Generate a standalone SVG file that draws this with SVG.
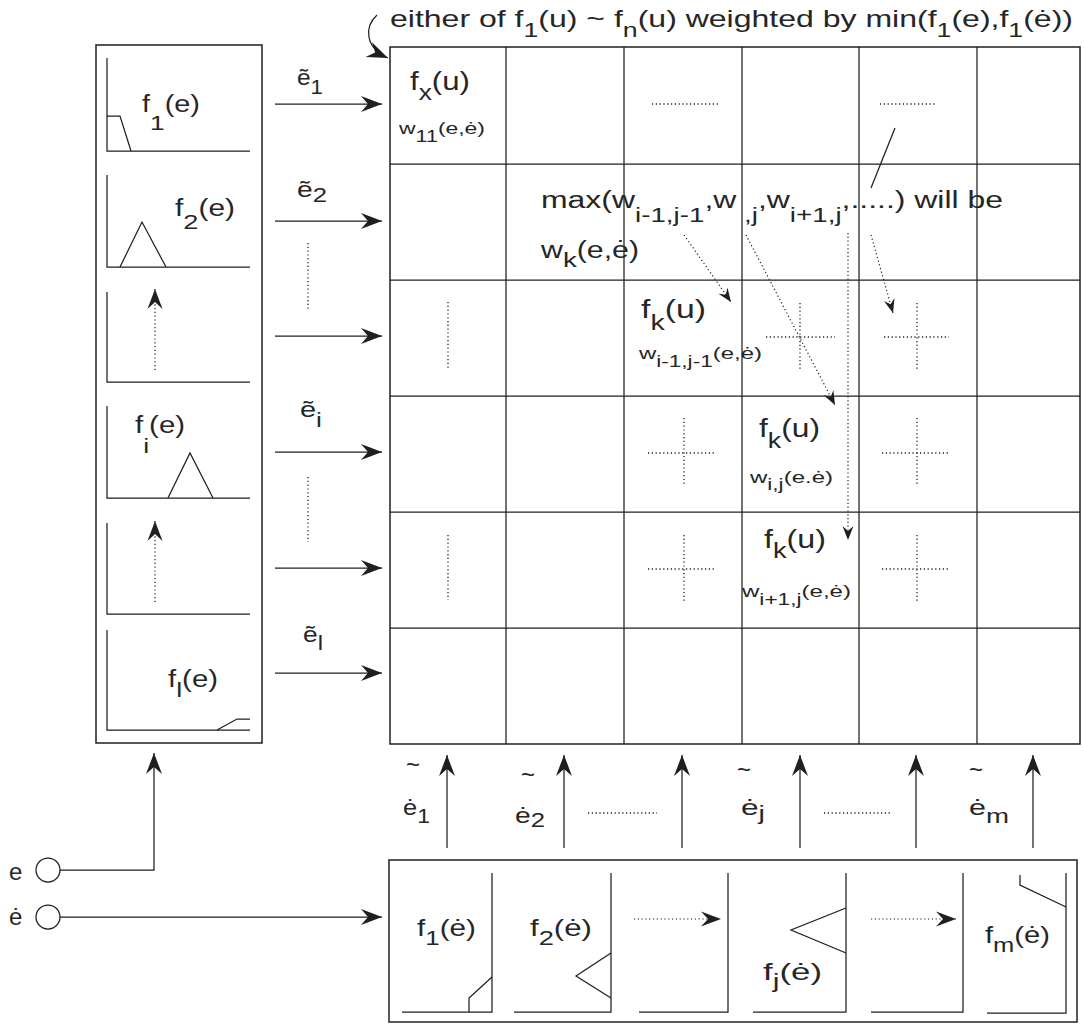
<svg xmlns="http://www.w3.org/2000/svg" width="1084" height="1025" viewBox="0 0 1084 1025">
<style>
.t{font-family:"Liberation Sans",Arial,Helvetica,sans-serif;fill:#262626}
.ln{fill:none;stroke:#1f1f1f;stroke-width:1.25}
.bx{fill:none;stroke:#1f1f1f;stroke-width:1.5}
.dt{fill:none;stroke:#1f1f1f;stroke-width:1.3;stroke-dasharray:1.2 2.6}
.ar{fill:none;stroke:#1f1f1f;stroke-width:1.25;marker-end:url(#ah)}
.da{fill:none;stroke:#1f1f1f;stroke-width:1.2;stroke-dasharray:1.2 2.6;marker-end:url(#ahs)}
.dm{fill:none;stroke:#1f1f1f;stroke-width:1.2;stroke-dasharray:1.2 2.6;marker-end:url(#ahm)}
</style>
<defs>
<marker id="ah" markerUnits="userSpaceOnUse" viewBox="-22 -10 24 20" markerWidth="24" markerHeight="20" refX="0" refY="0" orient="auto">
<path d="M0,0 L-21,-8 L-14,0 L-21,8 Z" fill="#1f1f1f"/>
</marker>
<marker id="ahm" markerUnits="userSpaceOnUse" viewBox="-22 -10 24 20" markerWidth="24" markerHeight="20" refX="0" refY="0" orient="auto">
<path d="M0,0 L-20,-7.5 L-13,0 L-20,7.5 Z" fill="#1f1f1f" stroke="none"/>
</marker>
<marker id="ahs" markerUnits="userSpaceOnUse" viewBox="-16 -8 18 16" markerWidth="18" markerHeight="16" refX="0" refY="0" orient="auto">
<path d="M0,0 L-14,-5.5 L-9,0 L-14,5.5 Z" fill="#1f1f1f" stroke="none"/>
</marker>
</defs>
<rect width="1084" height="1025" fill="#fff"/>

<!-- annotation -->
<g id="annotation">
<text class="t" x="390" y="27" font-size="24" textLength="683" lengthAdjust="spacingAndGlyphs">either of f<tspan dy="10" font-size="20">1</tspan><tspan dy="-10">(u) ~ f</tspan><tspan dy="10" font-size="20">n</tspan><tspan dy="-10">(u) weighted by min(f</tspan><tspan dy="10" font-size="20">1</tspan><tspan dy="-10">(e),f</tspan><tspan dy="10" font-size="20">1</tspan><tspan dy="-10">(ė))</tspan></text>
</g>

<!-- left fuzzifier box for e -->
<g id="fuzz-e">
<rect class="bx" x="96" y="45" width="166" height="698"/>
<g id="mf-e-1">
<polyline class="ln" points="107,58 107,151 250,151"/>
<polyline class="ln" points="107,116 120,116 131,151"/>
<text class="t" x="142" y="112" font-size="23" textLength="58" lengthAdjust="spacingAndGlyphs">f<tspan dy="18" font-size="21">1</tspan><tspan dy="-18">(e)</tspan></text>
</g>
<g id="mf-e-2">
<polyline class="ln" points="107,175 107,267 250,267"/>
<polyline class="ln" points="120,267 142,222 166,267"/>
<text class="t" x="175" y="216" font-size="23" textLength="60" lengthAdjust="spacingAndGlyphs">f<tspan dy="13" font-size="21">2</tspan><tspan dy="-13">(e)</tspan></text>
</g>
<g id="mf-e-3">
<polyline class="ln" points="107,292 107,382 250,382"/>
<line class="dm" x1="155" y1="370" x2="155" y2="289"/>
</g>
<g id="mf-e-i">
<polyline class="ln" points="107,406 107,498 250,498"/>
<polyline class="ln" points="168,498 190,453 213,498"/>
<text class="t" x="135" y="433" font-size="23" textLength="50" lengthAdjust="spacingAndGlyphs">f<tspan dy="20" font-size="21">i</tspan><tspan dy="-20">(e)</tspan></text>
</g>
<g id="mf-e-5">
<polyline class="ln" points="107,523 107,614 250,614"/>
<line class="dm" x1="155" y1="602" x2="155" y2="521"/>
</g>
<g id="mf-e-l">
<polyline class="ln" points="107,630 107,730 250,730"/>
<polyline class="ln" points="217,730 237,719 250,719"/>
<text class="t" x="168" y="687" font-size="23" textLength="50" lengthAdjust="spacingAndGlyphs">f<tspan dy="10" font-size="21">l</tspan><tspan dy="-10">(e)</tspan></text>
</g>
</g>

<!-- rule grid -->
<g id="rule-grid">
<rect class="bx" x="390" y="47" width="690" height="697"/>
<g class="ln">
<line x1="506" y1="47" x2="506" y2="744"/>
<line x1="624" y1="47" x2="624" y2="744"/>
<line x1="742" y1="47" x2="742" y2="744"/>
<line x1="859" y1="47" x2="859" y2="744"/>
<line x1="977" y1="47" x2="977" y2="744"/>
<line x1="390" y1="164" x2="1080" y2="164"/>
<line x1="390" y1="280" x2="1080" y2="280"/>
<line x1="390" y1="396" x2="1080" y2="396"/>
<line x1="390" y1="512" x2="1080" y2="512"/>
<line x1="390" y1="628" x2="1080" y2="628"/>
</g>
<g id="cell-1-1">
<text class="t" x="410" y="90" font-size="26" textLength="60" lengthAdjust="spacingAndGlyphs">f<tspan dy="10" font-size="22">x</tspan><tspan dy="-10">(u)</tspan></text>
<text class="t" x="399" y="134" font-size="17" textLength="86" lengthAdjust="spacingAndGlyphs">w<tspan dy="8" font-size="16">11</tspan><tspan dy="-8">(e,ė)</tspan></text>
</g>
<g id="grid-dots">
<line class="dt" x1="652" y1="104" x2="718" y2="104"/>
<line class="dt" x1="880" y1="104" x2="935" y2="104"/>
<line class="dt" x1="448" y1="302" x2="448" y2="368"/>
<line class="dt" x1="766" y1="337" x2="835" y2="337"/>
<line class="dt" x1="800" y1="303" x2="800" y2="370"/>
<line class="dt" x1="884" y1="337" x2="949" y2="337"/>
<line class="dt" x1="917" y1="303" x2="917" y2="370"/>
<line class="dt" x1="648" y1="453" x2="716" y2="453"/>
<line class="dt" x1="684" y1="418" x2="684" y2="485"/>
<line class="dt" x1="882" y1="453" x2="949" y2="453"/>
<line class="dt" x1="917" y1="418" x2="917" y2="485"/>
<line class="dt" x1="448" y1="535" x2="448" y2="600"/>
<line class="dt" x1="648" y1="569" x2="716" y2="569"/>
<line class="dt" x1="684" y1="535" x2="684" y2="602"/>
<line class="dt" x1="882" y1="569" x2="949" y2="569"/>
<line class="dt" x1="917" y1="535" x2="917" y2="602"/>
</g>
<g id="max-note">
<text class="t" x="541" y="208" font-size="23" textLength="462" lengthAdjust="spacingAndGlyphs">max(w<tspan dy="14" font-size="20">i-1,j-1</tspan><tspan dy="-14">,w</tspan><tspan dy="14" font-size="20"> ,j</tspan><tspan dy="-14">,w</tspan><tspan dy="14" font-size="20">i+1,j</tspan><tspan dy="-14">,.....) will be</tspan></text>
<text class="t" x="541" y="258" font-size="23" textLength="98" lengthAdjust="spacingAndGlyphs">w<tspan dy="9" font-size="21">k</tspan><tspan dy="-9">(e,ė)</tspan></text>
</g>
<g id="cell-k-1">
<text class="t" x="641" y="318" font-size="26" textLength="65" lengthAdjust="spacingAndGlyphs">f<tspan dy="12" font-size="22">k</tspan><tspan dy="-12">(u)</tspan></text>
<text class="t" x="639" y="359" font-size="17" textLength="123" lengthAdjust="spacingAndGlyphs">w<tspan dy="8" font-size="16">i-1,j-1</tspan><tspan dy="-8">(e,ė)</tspan></text>
</g>
<g id="cell-k-2">
<text class="t" x="759" y="437" font-size="26" textLength="61" lengthAdjust="spacingAndGlyphs">f<tspan dy="11" font-size="22">k</tspan><tspan dy="-11">(u)</tspan></text>
<text class="t" x="750" y="483" font-size="17" textLength="83" lengthAdjust="spacingAndGlyphs">w<tspan dy="7" font-size="16">i,j</tspan><tspan dy="-7">(e.ė)</tspan></text>
</g>
<g id="cell-k-3">
<text class="t" x="764" y="548" font-size="26" textLength="62" lengthAdjust="spacingAndGlyphs">f<tspan dy="10" font-size="22">k</tspan><tspan dy="-10">(u)</tspan></text>
<text class="t" x="742" y="597" font-size="17" textLength="109" lengthAdjust="spacingAndGlyphs">w<tspan dy="8" font-size="16">i+1,j</tspan><tspan dy="-8">(e,ė)</tspan></text>
</g>
</g>

<!-- bottom fuzzifier box for e-dot -->
<g id="fuzz-edot">
<rect class="bx" x="389" y="860" width="688" height="162"/>
<g id="mf-ed-1">
<polyline class="ln" points="402,1012 492,1012 492,873"/>
<polyline class="ln" points="469,1012 469,998 492,977"/>
<text class="t" x="417" y="936" font-size="24" textLength="59" lengthAdjust="spacingAndGlyphs">f<tspan dy="9" font-size="21">1</tspan><tspan dy="-9">(ė)</tspan></text>
</g>
<g id="mf-ed-2">
<polyline class="ln" points="514,1012 611,1012 611,873"/>
<polyline class="ln" points="611,953 576,976 611,998"/>
<text class="t" x="530" y="936" font-size="24" textLength="62" lengthAdjust="spacingAndGlyphs">f<tspan dy="9" font-size="21">2</tspan><tspan dy="-9">(ė)</tspan></text>
</g>
<g id="mf-ed-3">
<polyline class="ln" points="639,1012 728,1012 728,873"/>
<line class="dm" x1="634" y1="919" x2="721" y2="919"/>
</g>
<g id="mf-ed-j">
<polyline class="ln" points="753,1012 846,1012 846,873"/>
<polyline class="ln" points="846,908 791,930 846,953"/>
<text class="t" x="763" y="980" font-size="24" textLength="59" lengthAdjust="spacingAndGlyphs">f<tspan dy="8" font-size="21">j</tspan><tspan dy="-8">(ė)</tspan></text>
</g>
<g id="mf-ed-5">
<polyline class="ln" points="871,1012 963,1012 963,873"/>
<line class="dm" x1="871" y1="919" x2="956" y2="919"/>
</g>
<g id="mf-ed-m">
<polyline class="ln" points="987,1013 1066,1013 1066,873"/>
<polyline class="ln" points="1020,875 1020,885 1066,907"/>
<text class="t" x="985" y="943" font-size="24" textLength="65" lengthAdjust="spacingAndGlyphs">f<tspan dy="9" font-size="21">m</tspan><tspan dy="-9">(ė)</tspan></text>
</g>
</g>

<!-- inputs -->
<g id="input-e">
<text class="t" x="9" y="880" font-size="24">e</text>
<circle class="ln" cx="48" cy="870" r="12"/>
</g>
<g id="input-edot">
<text class="t" x="9" y="925" font-size="24">ė</text>
<circle class="ln" cx="48" cy="917" r="12"/>
</g>

<!-- connectors -->
<g id="connectors">
<path class="ar" d="M377,15 C364,27 365,48 388,58"/>
<line class="ar" x1="275" y1="104" x2="382" y2="104"/>
<line class="ar" x1="275" y1="221" x2="382" y2="221"/>
<line class="ar" x1="275" y1="336" x2="382" y2="336"/>
<line class="ar" x1="275" y1="452" x2="382" y2="452"/>
<line class="ar" x1="275" y1="568" x2="382" y2="568"/>
<line class="ar" x1="275" y1="673" x2="382" y2="673"/>
<line class="dt" x1="308" y1="243" x2="308" y2="310"/>
<line class="dt" x1="308" y1="477" x2="308" y2="542"/>
<polyline class="ar" points="60,870 154,870 154,753"/>
<line class="ar" x1="60" y1="917" x2="382" y2="917"/>
<line class="ar" x1="447" y1="848" x2="447" y2="755"/>
<line class="ar" x1="564" y1="848" x2="564" y2="755"/>
<line class="ar" x1="682" y1="848" x2="682" y2="755"/>
<line class="ar" x1="800" y1="848" x2="800" y2="755"/>
<line class="ar" x1="916" y1="848" x2="916" y2="755"/>
<line class="ar" x1="1033" y1="848" x2="1033" y2="755"/>
<line class="dt" x1="588" y1="813" x2="657" y2="813"/>
<line class="dt" x1="824" y1="813" x2="891" y2="813"/>
<line class="ln" x1="895" y1="128" x2="871" y2="188"/>
<line class="da" x1="684" y1="235" x2="731" y2="302"/>
<line class="da" x1="746" y1="235" x2="835" y2="405"/>
<line class="da" x1="848" y1="233" x2="848" y2="540"/>
<line class="da" x1="871" y1="235" x2="893" y2="313"/>
</g>

<!-- connector labels -->
<g id="labels-e">
<text class="t" x="297" y="85" font-size="22" textLength="26" lengthAdjust="spacingAndGlyphs">ẽ<tspan dy="9" font-size="20">1</tspan></text>
<text class="t" x="297" y="197" font-size="22" textLength="30" lengthAdjust="spacingAndGlyphs">ẽ<tspan dy="5" font-size="20">2</tspan></text>
<text class="t" x="300" y="417" font-size="22" textLength="22" lengthAdjust="spacingAndGlyphs">ẽ<tspan dy="10" font-size="20">i</tspan></text>
<text class="t" x="303" y="642" font-size="22" textLength="20" lengthAdjust="spacingAndGlyphs">ẽ<tspan dy="8" font-size="20">l</tspan></text>
</g>
<g id="labels-edot">
<text class="t" x="406" y="773" font-size="24">~</text>
<text class="t" x="403" y="815" font-size="22" textLength="27" lengthAdjust="spacingAndGlyphs">ė<tspan dy="8" font-size="20">1</tspan></text>
<text class="t" x="521" y="783" font-size="24">~</text>
<text class="t" x="515" y="823" font-size="22" textLength="30" lengthAdjust="spacingAndGlyphs">ė<tspan dy="4" font-size="20">2</tspan></text>
<text class="t" x="737" y="778" font-size="24">~</text>
<text class="t" x="741" y="815" font-size="22" textLength="24" lengthAdjust="spacingAndGlyphs">ė<tspan dy="5" font-size="20">j</tspan></text>
<text class="t" x="969" y="778" font-size="24">~</text>
<text class="t" x="969" y="815" font-size="22" textLength="40" lengthAdjust="spacingAndGlyphs">ė<tspan dy="8" font-size="20">m</tspan></text>
</g>
</svg>
